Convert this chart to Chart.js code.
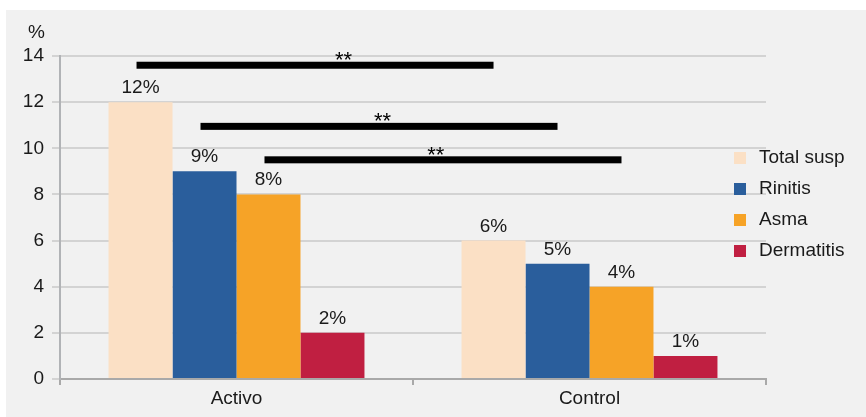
<!DOCTYPE html>
<html>
<head>
<meta charset="utf-8">
<script src="https://cdn.jsdelivr.net/npm/chart.js@4.4.1/dist/chart.umd.min.js"></script>
<style>
    body { margin: 0; background: #ffffff; }
    #wrap { position: absolute; left: 6px; top: 10px; width: 860px; height: 407px; background: #f1f1f1; }
</style>
</head>
<body>
<div id="wrap"><canvas id="chart"></canvas></div>
<script>
// Datos del gráfico
const categories = ['Activo', 'Control'];
const seriesNames = ['Total susp', 'Rinitis', 'Asma', 'Dermatitis'];
const totalSusp = [12, 6];
const rinitis = [9, 5];
const asma = [8, 4];
const dermatitis = [2, 1];
const yTicks = [0, 2, 4, 6, 8, 10, 12, 14];

// Barras de significación: serie comparada entre grupos y altura en el eje Y
const sigSeries = [0, 1, 2];
const sigLevels = [13.6, 10.95, 9.5];
const sigLabels = ['**', '**', '**'];

const colors = ['#fbe0c5', '#2a5e9c', '#f6a327', '#c01f41'];
const FONT = "'Liberation Sans Narrow', 'Liberation Sans', Arial, sans-serif";

// Etiquetas de valor, barras de significación, leyenda y "%"
const extras = {
    id: 'extras',
    afterDatasetsDraw(chart) {
        const ctx = chart.ctx;
        const area = chart.chartArea;
        const y = chart.scales.y;
        ctx.save();

        // valores encima de cada barra
        ctx.fillStyle = '#1a1a1a';
        ctx.font = '19px ' + FONT;
        ctx.textAlign = 'center';
        ctx.textBaseline = 'alphabetic';
        chart.data.datasets.forEach((ds, i) => {
            chart.getDatasetMeta(i).data.forEach((bar, j) => {
                ctx.fillText(ds.data[j] + '%', bar.x, bar.y - 9);
            });
        });

        // barras de significación
        const starPos = [0.58, 0.51, 0.48];
        sigSeries.forEach((s, k) => {
            const meta = chart.getDatasetMeta(s);
            const x0 = meta.data[0].x - 4;
            const x1 = meta.data[1].x;
            const ly = y.getPixelForValue(sigLevels[k]);
            ctx.fillStyle = '#000000';
            ctx.fillRect(x0, ly - 3.5, x1 - x0, 7);
            ctx.font = '22px Arial, sans-serif';
            ctx.textAlign = 'center';
            ctx.textBaseline = 'alphabetic';
            ctx.fillText(sigLabels[k], x0 + starPos[k] * (x1 - x0), ly + 2);
        });

        // leyenda
        ctx.font = '19px ' + FONT;
        ctx.textAlign = 'left';
        ctx.textBaseline = 'middle';
        chart.data.datasets.forEach((ds, i) => {
            const ry = area.top + 102 + i * 31;
            ctx.fillStyle = ds.backgroundColor;
            ctx.fillRect(area.right - 32, ry - 6, 12, 12);
            ctx.fillStyle = '#1a1a1a';
            ctx.fillText(ds.label, area.right - 7, ry);
        });

        // unidad del eje Y
        ctx.fillText('%', 22, 23);
        ctx.restore();
    }
};

const datasets = [totalSusp, rinitis, asma, dermatitis].map((values, i) => ({
    label: seriesNames[i],
    data: values,
    backgroundColor: colors[i],
    borderWidth: 0
}));

new Chart(document.getElementById('chart'), {
    type: 'bar',
    data: { labels: categories, datasets: datasets },
    options: {
        responsive: true,
        maintainAspectRatio: false,
        animation: false,
        layout: { padding: { top: 46, right: 100, left: 0, bottom: 0 } },
        datasets: { bar: { barPercentage: 1, categoryPercentage: 0.725 } },
        plugins: { legend: { display: false }, tooltip: { enabled: false } },
        scales: {
            x: {
                grid: { display: true, offset: true, drawOnChartArea: false, drawTicks: true, tickLength: 6, color: '#a9a9a9', lineWidth: 2 },
                border: { display: true, color: '#a9a9a9', width: 2 },
                ticks: { color: '#1a1a1a', font: { family: FONT, size: 19 }, padding: 2 },
                afterFit: scale => { scale.height = 38; }
            },
            y: {
                min: 0,
                max: 14,
                afterBuildTicks: scale => { scale.ticks = yTicks.map(v => ({ value: v })); },
                grid: { color: '#d3d3d3', lineWidth: 2, tickLength: 8, drawTicks: true },
                border: { display: true, color: '#b1b3b6', width: 2 },
                ticks: { color: '#1a1a1a', font: { family: FONT, size: 19 }, padding: 8 },
                afterFit: scale => { scale.width = 54; }
            }
        }
    },
    plugins: [extras]
});
</script>
</body>
</html>
